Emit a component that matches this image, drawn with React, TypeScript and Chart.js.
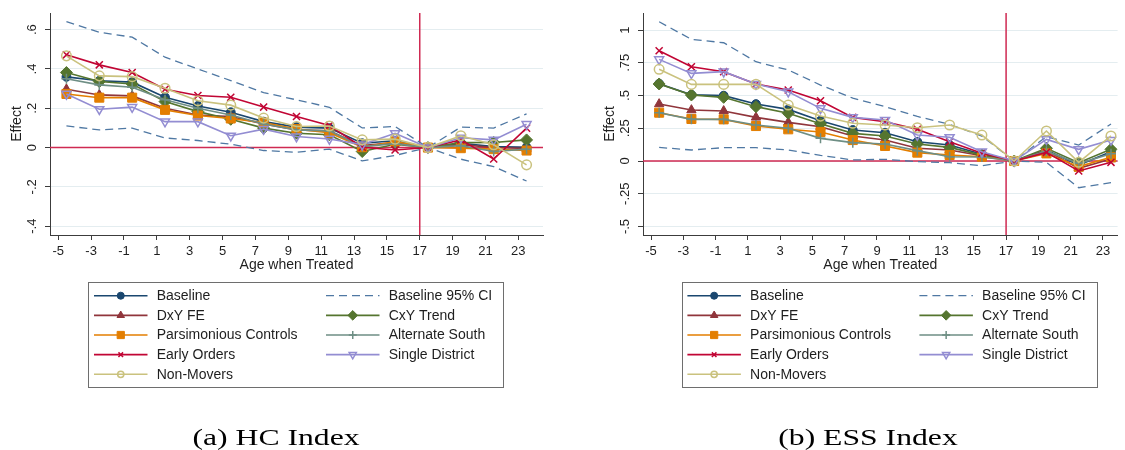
import React, { useEffect, useRef } from 'react';
import { Chart, registerables } from 'chart.js';
import { drawPoint } from 'chart.js/helpers';

Chart.register(...registerables);

// Age-at-treatment bins (bin midpoints) shared by both panels
const ageBins = [-4.5, -2.5, -0.5, 1.5, 3.5, 5.5, 7.5, 9.5, 11.5, 13.5, 15.5, 17.5, 19.5, 21.5, 23.5];
const xTickValues = [-5, -3, -1, 1, 3, 5, 7, 9, 11, 13, 15, 17, 19, 21, 23];
const xTickLabels = ['-5', '-3', '-1', '1', '3', '5', '7', '9', '11', '13', '15', '17', '19', '21', '23'];
const referenceAge = 17;
const referenceEffect = 0;

const hcTickValues = [-0.4, -0.2, 0, 0.2, 0.4, 0.6];
const hcTickLabels = ['-.4', '-.2', '0', '.2', '.4', '.6'];
const essTickValues = [-0.5, -0.25, 0, 0.25, 0.5, 0.75, 1];
const essTickLabels = ['-.5', '-.25', '0', '.25', '.5', '.75', '1'];

// (a) HC Index
const hcBaseline = [0.36, 0.34, 0.333, 0.256, 0.212, 0.18, 0.132, 0.104, 0.099, 0.022, 0.035, 0, 0.022, 0.005, 0.002];
const hcCiUpper = [0.641, 0.587, 0.562, 0.46, 0.4, 0.341, 0.28, 0.243, 0.205, 0.1, 0.107, 0, 0.104, 0.099, 0.172];
const hcCiLower = [0.11, 0.09, 0.099, 0.049, 0.036, 0.017, -0.015, -0.024, -0.008, -0.068, -0.04, 0, -0.059, -0.097, -0.17];
const hcDxyFe = [0.297, 0.268, 0.263, 0.2, 0.166, 0.158, 0.12, 0.09, 0.085, 0.01, 0.025, 0, 0.015, 0.0, -0.005];
const hcCxyTrend = [0.382, 0.336, 0.324, 0.234, 0.183, 0.144, 0.099, 0.073, 0.065, -0.02, 0.017, 0, 0.025, 0.026, 0.039];
const hcParsimonious = [0.273, 0.254, 0.254, 0.192, 0.163, 0.148, 0.127, 0.094, 0.076, 0.002, 0.031, 0, -0.003, -0.008, -0.015];
const hcAltSouth = [0.35, 0.319, 0.307, 0.243, 0.2, 0.166, 0.12, 0.09, 0.085, 0.005, 0.02, 0, 0.01, -0.02, -0.008];
const hcEarlyOrders = [0.472, 0.421, 0.382, 0.297, 0.265, 0.256, 0.206, 0.158, 0.112, 0.002, -0.012, 0, 0.039, -0.058, 0.099];
const hcSingleDistrict = [0.273, 0.195, 0.206, 0.132, 0.132, 0.06, 0.094, 0.056, 0.044, 0.015, 0.073, 0, 0.05, 0.039, 0.119];
const hcNonMovers = [0.467, 0.365, 0.361, 0.302, 0.238, 0.216, 0.15, 0.107, 0.11, 0.039, 0.043, 0, 0.06, 0.014, -0.088];

// (b) ESS Index
const essBaseline = [0.59, 0.505, 0.499, 0.435, 0.394, 0.308, 0.237, 0.216, 0.147, 0.122, 0.051, 0, 0.084, -0.031, 0.071];
const essCiUpper = [1.063, 0.929, 0.903, 0.758, 0.695, 0.58, 0.48, 0.415, 0.34, 0.28, 0.19, 0, 0.186, 0.122, 0.282];
const essCiLower = [0.104, 0.084, 0.102, 0.102, 0.084, 0.043, 0.008, 0.013, -0.005, -0.013, -0.036, 0, -0.01, -0.204, -0.165];
const essDxyFe = [0.435, 0.389, 0.382, 0.333, 0.295, 0.262, 0.191, 0.16, 0.097, 0.084, 0.04, 0, 0.08, -0.056, 0.015];
const essCxyTrend = [0.588, 0.504, 0.486, 0.415, 0.364, 0.285, 0.211, 0.191, 0.13, 0.104, 0.045, 0, 0.097, -0.013, 0.089];
const essParsimonious = [0.369, 0.321, 0.318, 0.267, 0.242, 0.222, 0.16, 0.115, 0.064, 0.046, 0.033, 0, 0.058, -0.043, 0.028];
const essAltSouth = [0.369, 0.318, 0.318, 0.275, 0.25, 0.173, 0.14, 0.13, 0.079, 0.033, 0.03, 0, 0.075, -0.02, 0.055];
const essEarlyOrders = [0.842, 0.72, 0.682, 0.588, 0.542, 0.46, 0.333, 0.3, 0.242, 0.147, 0.06, 0, 0.066, -0.076, -0.01];
const essSingleDistrict = [0.776, 0.669, 0.682, 0.588, 0.529, 0.402, 0.333, 0.313, 0.198, 0.181, 0.071, 0, 0.165, 0.089, 0.16];
const essNonMovers = [0.7, 0.585, 0.585, 0.585, 0.427, 0.343, 0.288, 0.275, 0.254, 0.275, 0.198, 0, 0.229, -0.01, 0.191];

type Style = {
  label: string;
  color: string;
  pointStyle?: string;
  radius?: number;
  rotation?: number;
  hollow?: boolean;
  dashed?: boolean;
  legendHidden?: boolean;
};

// Drawn in this order; later series sit on top
const styles: Style[] = [
  { label: 'Baseline', color: '#1a476f', pointStyle: 'circle', radius: 4.4 },
  { label: 'Baseline 95% CI', color: '#4f78a3', dashed: true },
  { label: 'Baseline 95% CI', color: '#4f78a3', dashed: true, legendHidden: true },
  { label: 'DxY FE', color: '#90353b', pointStyle: 'triangle', radius: 5.4 },
  { label: 'CxY Trend', color: '#55752f', pointStyle: 'rectRot', radius: 6 },
  { label: 'Parsimonious Controls', color: '#e37e00', pointStyle: 'rect', radius: 6.4 },
  { label: 'Alternate South', color: '#6e8e84', pointStyle: 'cross', radius: 5 },
  { label: 'Early Orders', color: '#c10534', pointStyle: 'crossRot', radius: 5 },
  { label: 'Single District', color: '#938dd2', pointStyle: 'triangle', radius: 5.2, rotation: 180, hollow: true },
  { label: 'Non-Movers', color: '#cac27e', pointStyle: 'circle', radius: 4.8, hollow: true },
];

function buildDatasets(series: number[][]) {
  return series.map((values, i) => {
    const s = styles[i];
    const r = s.radius ?? 0;
    return {
      label: s.label,
      legendHidden: !!s.legendHidden,
      data: ageBins.map((x, k) => ({ x, y: values[k] })),
      borderColor: s.color,
      borderWidth: s.dashed ? 1.3 : 1.6,
      borderDash: s.dashed ? [8, 5] : [],
      pointRadius: r,
      pointStyle: s.pointStyle ?? 'circle',
      pointRotation: s.rotation ?? 0,
      pointBackgroundColor: s.hollow ? 'rgba(255,255,255,0)' : s.color,
      pointBorderColor: s.color,
      pointBorderWidth: s.hollow || s.pointStyle === 'cross' || s.pointStyle === 'crossRot' ? 1.5 : 1,
      tension: 0,
      fill: false,
      order: 50 - i,
    };
  });
}

const refLinesPlugin = {
  id: 'refLines',
  beforeDatasetsDraw(chart: any) {
    const { ctx, chartArea: a, scales } = chart;
    ctx.save();
    ctx.strokeStyle = '#cf2a52';
    ctx.lineWidth = 1.5;
    const y0 = scales.y.getPixelForValue(referenceEffect);
    const xr = scales.x.getPixelForValue(referenceAge);
    ctx.beginPath();
    ctx.moveTo(a.left, y0);
    ctx.lineTo(a.right, y0);
    ctx.moveTo(xr, a.top);
    ctx.lineTo(xr, a.bottom);
    ctx.stroke();
    ctx.restore();
  },
};

const legendPlugin = {
  id: 'panelLegend',
  afterDraw(chart: any, _args: any, opts: any) {
    const { ctx } = chart;
    const left = opts.boxLeft;
    const top = 282;
    const w = 415;
    const h = 105;
    ctx.save();
    ctx.fillStyle = '#ffffff';
    ctx.fillRect(left, top, w, h);
    ctx.strokeStyle = '#6e6e6e';
    ctx.lineWidth = 1;
    ctx.strokeRect(Math.round(left) + 0.5, top + 0.5, w, h);

    const items = chart.data.datasets.filter((d: any) => !d.legendHidden);
    items.forEach((ds: any, i: number) => {
      const row = Math.floor(i / 2);
      const col = i % 2;
      const y = top + 13.7 + row * 19.65;
      const x0 = left + (col === 0 ? 5.7 : 237.7);
      const x1 = x0 + 53.5;
      ctx.beginPath();
      ctx.setLineDash(ds.borderDash || []);
      ctx.strokeStyle = ds.borderColor;
      ctx.lineWidth = ds.borderWidth;
      ctx.moveTo(x0, y);
      ctx.lineTo(x1, y);
      ctx.stroke();
      ctx.setLineDash([]);
      if (ds.pointRadius > 0) {
        ctx.fillStyle = ds.pointBackgroundColor;
        ctx.strokeStyle = ds.pointBorderColor;
        ctx.lineWidth = ds.pointBorderWidth;
        const small = ds.pointStyle === 'crossRot' || (ds.pointStyle === 'circle' && ds.pointBackgroundColor !== ds.borderColor);
        drawPoint(
          ctx,
          {
            pointStyle: ds.pointStyle,
            rotation: ds.pointRotation,
            radius: ds.pointRadius * (small ? 0.65 : 0.8),
            borderWidth: ds.pointBorderWidth,
          } as any,
          (x0 + x1) / 2,
          y
        );
      }
      ctx.fillStyle = '#1e1e1e';
      ctx.font = '14px "Liberation Sans", Arial, sans-serif';
      ctx.textAlign = 'left';
      ctx.textBaseline = 'middle';
      ctx.fillText(ds.label, x0 + 62.7, y + 0.5);
    });

    // panel caption
    ctx.fillStyle = '#000000';
    ctx.font = '24px "Liberation Serif", "Times New Roman", serif';
    ctx.textAlign = 'center';
    ctx.textBaseline = 'alphabetic';
    ctx.translate(opts.captionX, 445);
    ctx.scale(1.32, 1);
    ctx.fillText(opts.caption, 0, 0);
    ctx.restore();
  },
};

const tickFont = { family: '"Liberation Sans", Arial, sans-serif', size: 13 };
const titleFont = { family: '"Liberation Sans", Arial, sans-serif', size: 14 };
const axisColor = '#1e1e1e';
const lineColor = '#3c3c3c';

type PanelSpec = {
  series: number[][];
  yMin: number;
  yMax: number;
  xMax: number;
  yTicks: number[];
  yLabels: string[];
  padLeft: number;
  padRight: number;
  yTickPadding: number;
  caption: string;
  captionX: number;
  boxLeft: number;
};

function makeConfig(p: PanelSpec): any {
  return {
    type: 'line',
    data: { datasets: buildDatasets(p.series) },
    options: {
      responsive: false,
      animation: false,
      events: [],
      layout: { padding: { left: p.padLeft, top: 13, right: p.padRight, bottom: 175 } },
      plugins: {
        legend: { display: false },
        tooltip: { enabled: false },
        panelLegend: { caption: p.caption, captionX: p.captionX, boxLeft: p.boxLeft },
      },
      scales: {
        x: {
          type: 'linear',
          min: -5.5,
          max: p.xMax,
          afterBuildTicks: (s: any) => {
            s.ticks = xTickValues.map((v) => ({ value: v }));
          },
          afterFit: (s: any) => {
            s.height = 40;
          },
          ticks: {
            font: tickFont,
            color: axisColor,
            padding: 4,
            autoSkip: false,
            maxRotation: 0,
            callback: (_v: any, i: number) => xTickLabels[i],
          },
          grid: { drawOnChartArea: false, drawTicks: true, tickLength: 5, tickColor: lineColor },
          border: { display: true, color: lineColor, width: 1 },
          title: {
            display: true,
            text: 'Age when Treated',
            font: titleFont,
            color: axisColor,
            padding: { top: 0, bottom: 1.5 },
          },
        },
        y: {
          type: 'linear',
          min: p.yMin,
          max: p.yMax,
          afterBuildTicks: (s: any) => {
            s.ticks = p.yTicks.map((v) => ({ value: v }));
          },
          afterFit: (s: any) => {
            s.width = 50;
          },
          ticks: {
            font: tickFont,
            color: axisColor,
            minRotation: 90,
            maxRotation: 90,
            crossAlign: 'center',
            padding: p.yTickPadding,
            callback: (_v: any, i: number) => p.yLabels[i],
          },
          grid: { color: '#e4edf0', lineWidth: 1, tickLength: 5, tickColor: lineColor },
          border: { display: true, color: lineColor, width: 1 },
          title: {
            display: true,
            text: 'Effect',
            font: titleFont,
            color: axisColor,
            padding: { top: 9, bottom: 0 },
          },
        },
      },
    },
    plugins: [refLinesPlugin, legendPlugin],
  };
}

const hcPanel: PanelSpec = {
  series: [hcBaseline, hcCiUpper, hcCiLower, hcDxyFe, hcCxyTrend, hcParsimonious, hcAltSouth, hcEarlyOrders, hcSingleDistrict, hcNonMovers],
  yMin: -0.445,
  yMax: 0.685,
  xMax: 24.5,
  yTicks: hcTickValues,
  yLabels: hcTickLabels,
  padLeft: 0,
  padRight: 17,
  yTickPadding: 5,
  caption: '(a) HC Index',
  captionX: 276,
  boxLeft: 88.3,
};

const essPanel: PanelSpec = {
  series: [essBaseline, essCiUpper, essCiLower, essDxyFe, essCxyTrend, essParsimonious, essAltSouth, essEarlyOrders, essSingleDistrict, essNonMovers],
  yMin: -0.565,
  yMax: 1.13,
  xMax: 23.91,
  yTicks: essTickValues,
  yLabels: essTickLabels,
  padLeft: 33,
  padRight: 0,
  yTickPadding: 1.5,
  caption: '(b) ESS Index',
  captionX: 308,
  boxLeft: 121.7,
};

function Panel({ spec, left, width }: { spec: PanelSpec; left: number; width: number }) {
  const ref = useRef<HTMLCanvasElement>(null);
  useEffect(() => {
    if (!ref.current) return;
    const chart = new Chart(ref.current, makeConfig(spec));
    return () => chart.destroy();
  }, [spec]);
  return (
    <canvas
      ref={ref}
      width={width}
      height={450}
      style={{ position: 'absolute', left, top: 0, width, height: 450, display: 'block' }}
    />
  );
}

export default function App() {
  return (
    <div style={{ position: 'fixed', left: 0, top: 0, width: 1125, height: 450, background: '#ffffff', overflow: 'hidden' }}>
      <Panel spec={hcPanel} left={0} width={560} />
      <Panel spec={essPanel} left={560} width={565} />
    </div>
  );
}
